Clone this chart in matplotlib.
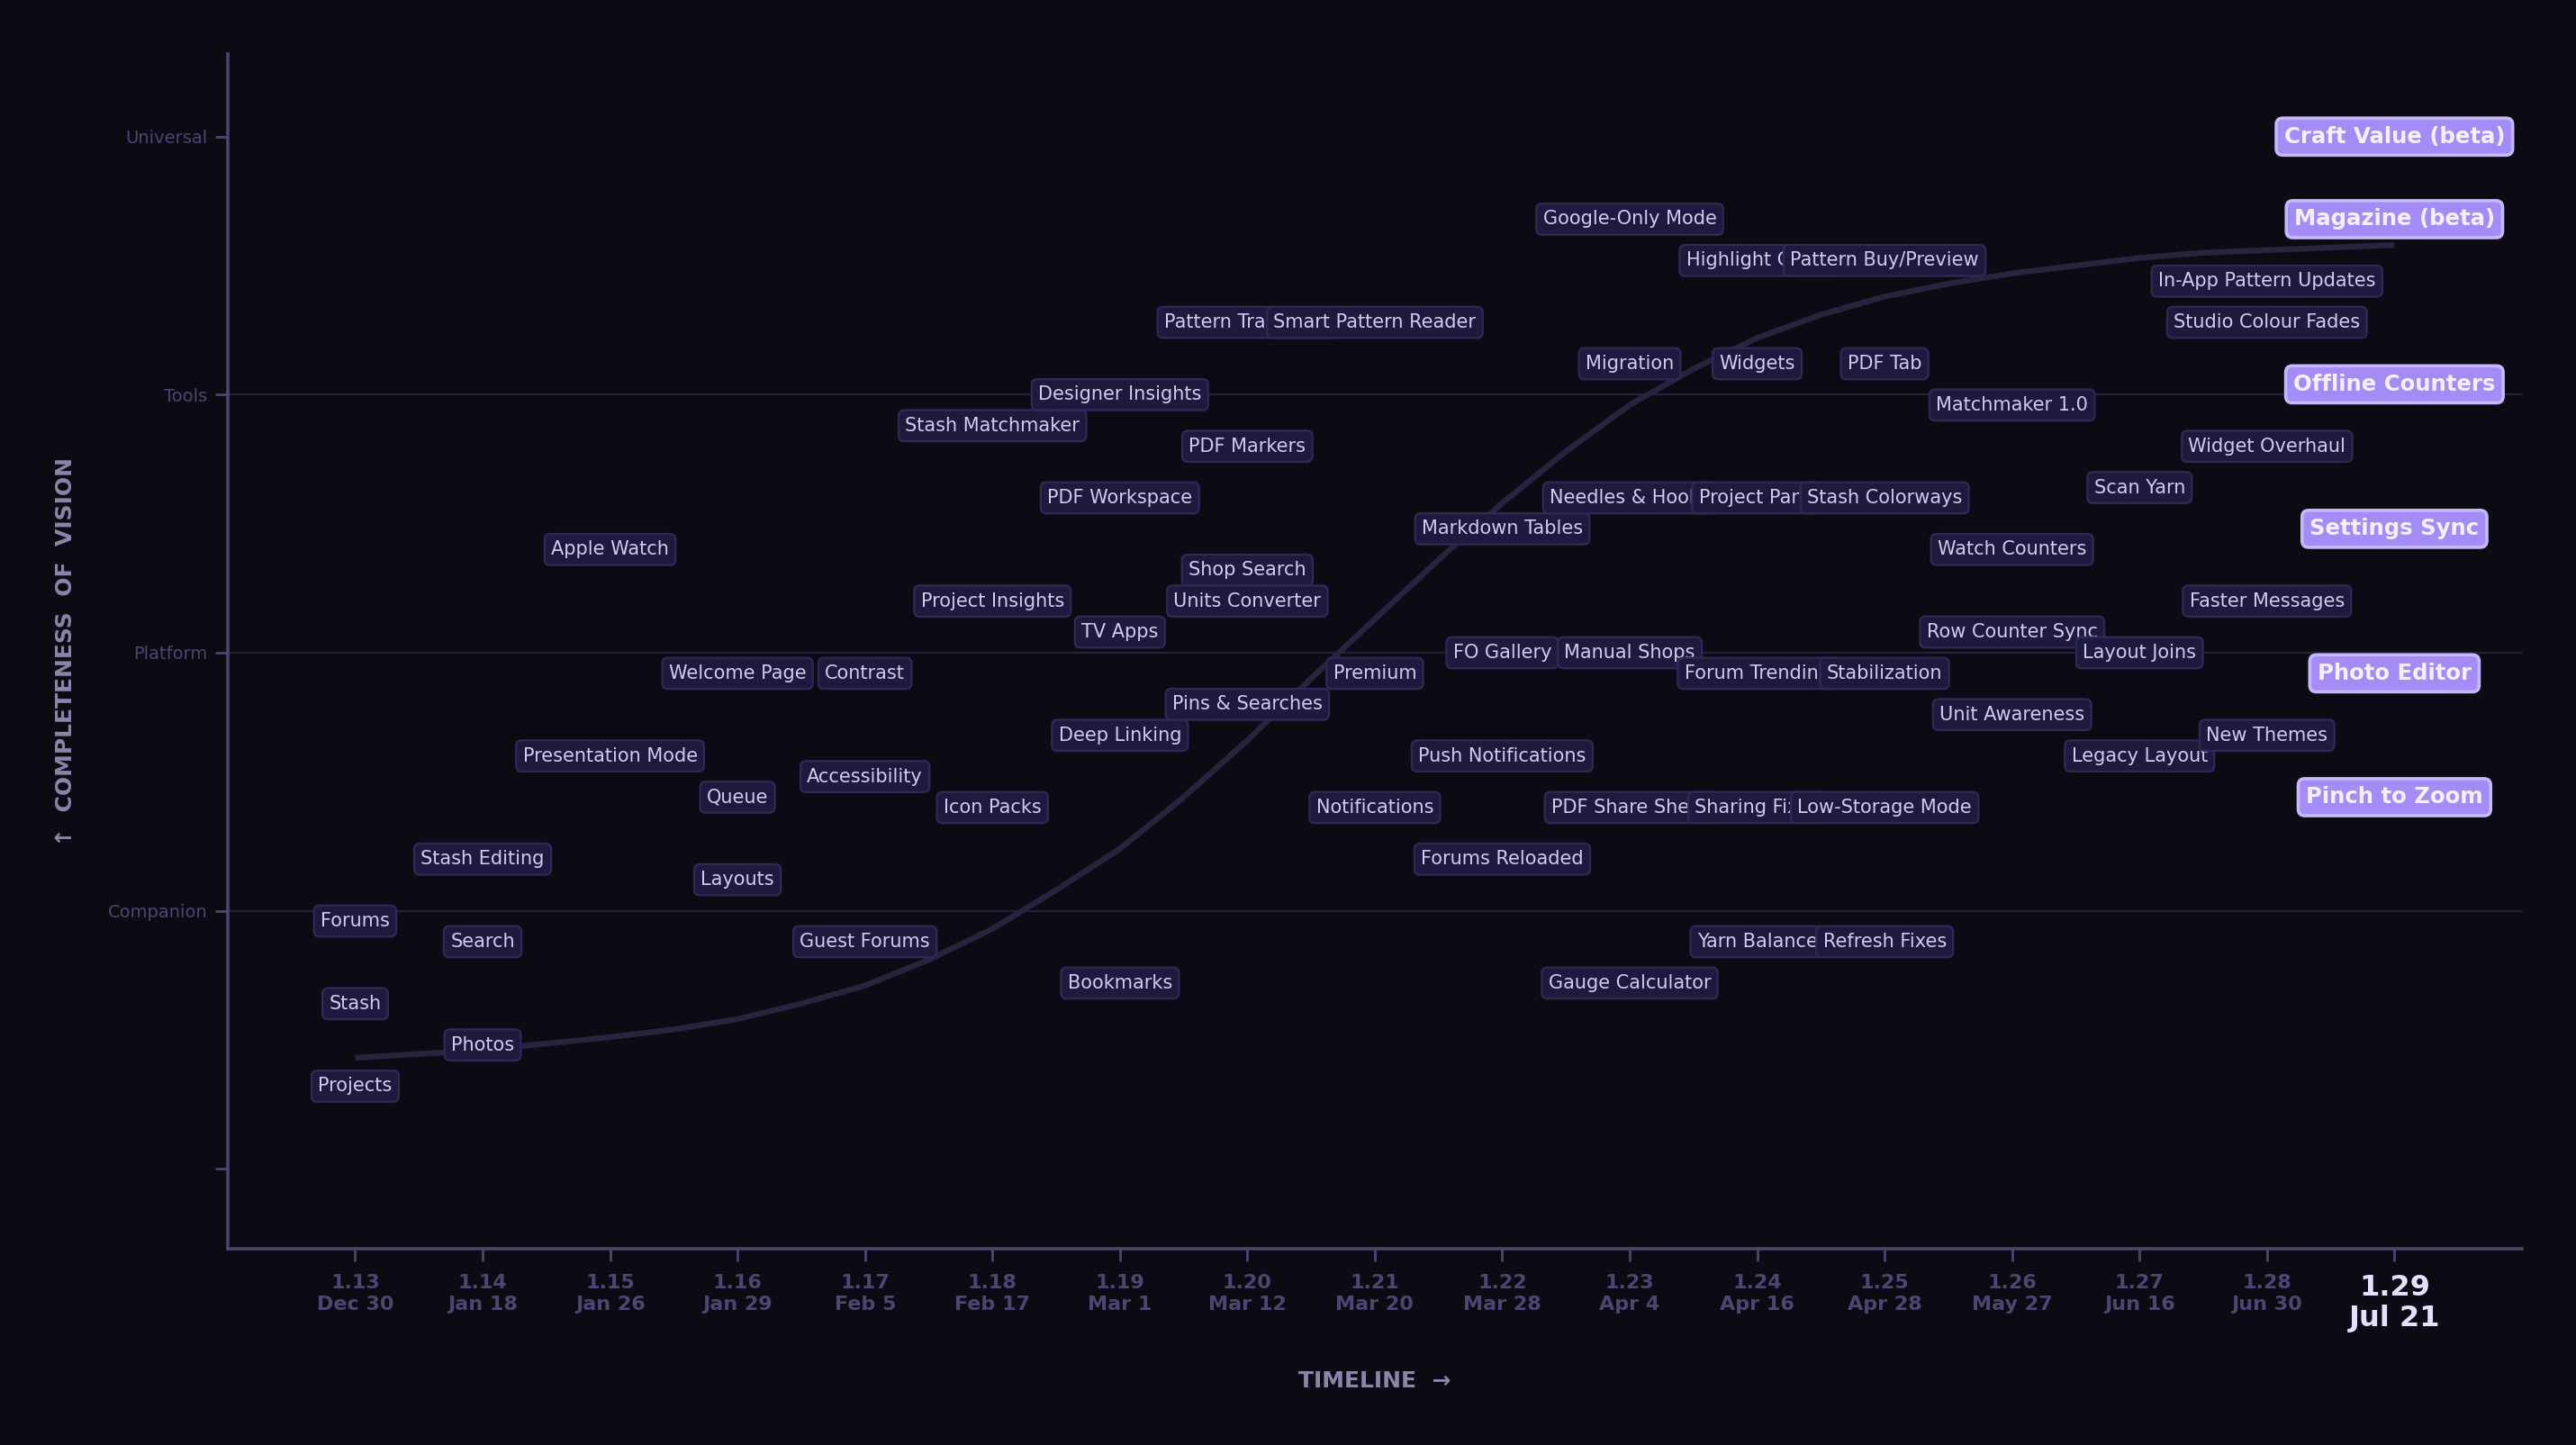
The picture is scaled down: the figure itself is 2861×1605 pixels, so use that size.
import matplotlib.pyplot as plt

# releases along the x axis
versions = ['1.13', '1.14', '1.15', '1.16', '1.17', '1.18', '1.19', '1.20', '1.21',
            '1.22', '1.23', '1.24', '1.25', '1.26', '1.27', '1.28', '1.29']
dates = ['Dec 30', 'Jan 18', 'Jan 26', 'Jan 29', 'Feb 5', 'Feb 17', 'Mar 1', 'Mar 12', 'Mar 20',
         'Mar 28', 'Apr 4', 'Apr 16', 'Apr 28', 'May 27', 'Jun 16', 'Jun 30', 'Jul 21']

# vision levels on the y axis
levels = ['', 'Companion', 'Platform', 'Tools', 'Universal']

# trend curve (release index, vision score)
curve_x = [0, 0.5, 1, 1.5, 2, 2.5, 3, 3.5, 4, 4.5, 5, 5.5, 6, 6.5, 7, 7.5, 8,
           8.5, 9, 9.5, 10, 10.5, 11, 11.5, 12, 12.5, 13, 13.5, 14, 14.5, 15, 15.5, 16]
curve_y = [0.43, 0.445, 0.46, 0.485, 0.51, 0.54, 0.58, 0.64, 0.71, 0.81, 0.93, 1.08, 1.24,
           1.44, 1.66, 1.90, 2.13, 2.36, 2.58, 2.78, 2.96, 3.10, 3.22, 3.31, 3.38, 3.43,
           3.47, 3.50, 3.53, 3.55, 3.56, 3.57, 3.58]

# features: name, release index, vision score
feature_names = [
    'Forums', 'Stash', 'Projects',
    'Stash Editing', 'Search', 'Photos',
    'Apple Watch', 'Presentation Mode',
    'Welcome Page', 'Queue', 'Layouts',
    'Contrast', 'Accessibility', 'Guest Forums',
    'Stash Matchmaker', 'Project Insights', 'Icon Packs',
    'Designer Insights', 'PDF Workspace', 'TV Apps', 'Deep Linking', 'Bookmarks',
    'Pattern Translator', 'PDF Markers', 'Shop Search', 'Units Converter', 'Pins & Searches',
    'Smart Pattern Reader', 'Premium', 'Notifications',
    'Markdown Tables', 'FO Gallery', 'Push Notifications', 'Forums Reloaded',
    'Google-Only Mode', 'Migration', 'Needles & Hooks', 'Manual Shops', 'PDF Share Sheet',
    'Gauge Calculator',
    'Highlight Chart', 'Widgets', 'Project Parts', 'Forum Trending', 'Sharing Fixes',
    'Yarn Balance',
    'Pattern Buy/Preview', 'PDF Tab', 'Stash Colorways', 'Stabilization', 'Low-Storage Mode',
    'Refresh Fixes',
    'Matchmaker 1.0', 'Watch Counters', 'Row Counter Sync', 'Unit Awareness',
    'Scan Yarn', 'Layout Joins', 'Legacy Layout',
    'In-App Pattern Updates', 'Studio Colour Fades', 'Widget Overhaul', 'Faster Messages',
    'New Themes',
    'Craft Value (beta)', 'Magazine (beta)', 'Offline Counters', 'Settings Sync',
    'Photo Editor', 'Pinch to Zoom',
]
feature_release = [
    0, 0, 0,
    1, 1, 1,
    2, 2,
    3, 3, 3,
    4, 4, 4,
    5, 5, 5,
    6, 6, 6, 6, 6,
    7, 7, 7, 7, 7,
    8, 8, 8,
    9, 9, 9, 9,
    10, 10, 10, 10, 10, 10,
    11, 11, 11, 11, 11, 11,
    12, 12, 12, 12, 12, 12,
    13, 13, 13, 13,
    14, 14, 14,
    15, 15, 15, 15, 15,
    16, 16, 16, 16, 16, 16,
]
feature_score = [
    0.96, 0.64, 0.32,
    1.20, 0.88, 0.48,
    2.40, 1.60,
    1.92, 1.44, 1.12,
    1.92, 1.52, 0.88,
    2.88, 2.20, 1.40,
    3.00, 2.60, 2.08, 1.68, 0.72,
    3.28, 2.80, 2.32, 2.20, 1.80,
    3.28, 1.92, 1.40,
    2.48, 2.00, 1.60, 1.20,
    3.68, 3.12, 2.60, 2.00, 1.40, 0.72,
    3.52, 3.12, 2.60, 1.92, 1.40, 0.88,
    3.52, 3.12, 2.60, 1.92, 1.40, 0.88,
    2.96, 2.40, 2.08, 1.76,
    2.64, 2.00, 1.60,
    3.44, 3.28, 2.80, 2.20, 1.68,
    4.00, 3.68, 3.04, 2.48, 1.92, 1.44,
]
current_release = 16

bg = '#0c0b13'
muted = '#4b4672'

fig = plt.figure(figsize=(14.305, 8.025), dpi=200, facecolor=bg)
ax = fig.add_axes([0.0884, 0.1358, 0.8906, 0.8268])
ax.set_facecolor(bg)

for lvl in [1, 2, 3]:
    ax.axhline(lvl, color='#24213b', lw=0.8, zorder=1)

ax.plot(curve_x, curve_y, color='#28233f', lw=2.3, solid_capstyle='butt', zorder=2)

z = 3
for name, rel, score in zip(feature_names, feature_release, feature_score):
    if rel == current_release:
        ax.text(rel, score, name, ha='center', va='center', fontsize=8.8, fontweight='bold',
                color='#f3f0ff', zorder=z,
                bbox=dict(boxstyle='round,pad=0.35,rounding_size=0.3', fc='#a48bf6',
                          ec='#c6b8fd', lw=1.3))
    else:
        ax.text(rel, score, name, ha='center', va='center', fontsize=7.5,
                color='#cfcaef', zorder=z,
                bbox=dict(boxstyle='round,pad=0.35,rounding_size=0.3', fc='#1e1a3e',
                          ec='#2e2a58', lw=0.8))
    z += 1

ax.set_xlim(-1, 17)
ax.set_ylim(-0.31, 4.32)

ax.set_xticks(range(len(versions)))
ax.set_xticklabels([v + '\n' + d for v, d in zip(versions, dates)],
                   fontsize=8, fontweight='bold', color=muted, linespacing=1.25)
last = ax.get_xticklabels()[current_release]
last.set_fontsize(11.5)
last.set_color('#e4e0ff')
last.set_linespacing(1.15)

ax.set_yticks(range(len(levels)))
ax.set_yticklabels(levels, fontsize=7, color=muted)

ax.tick_params(axis='x', length=5, width=1, color='#4a4670', pad=5)
ax.tick_params(axis='y', length=5, width=1, color='#4a4670', pad=3)

for side in ['top', 'right']:
    ax.spines[side].set_visible(False)
for side in ['left', 'bottom']:
    ax.spines[side].set_color('#4a4670')
    ax.spines[side].set_linewidth(1.3)

ax.set_xlabel('TIMELINE  \u2192', fontsize=9, fontweight='bold', color='#8a86ab', labelpad=15)
ax.set_ylabel('\u2191  COMPLETENESS  OF  VISION', fontsize=9, fontweight='bold',
              color='#8a86ab')
ax.yaxis.set_label_coords(-0.066, 0.5)

fig.savefig('out.png', dpi=200, facecolor=bg)
